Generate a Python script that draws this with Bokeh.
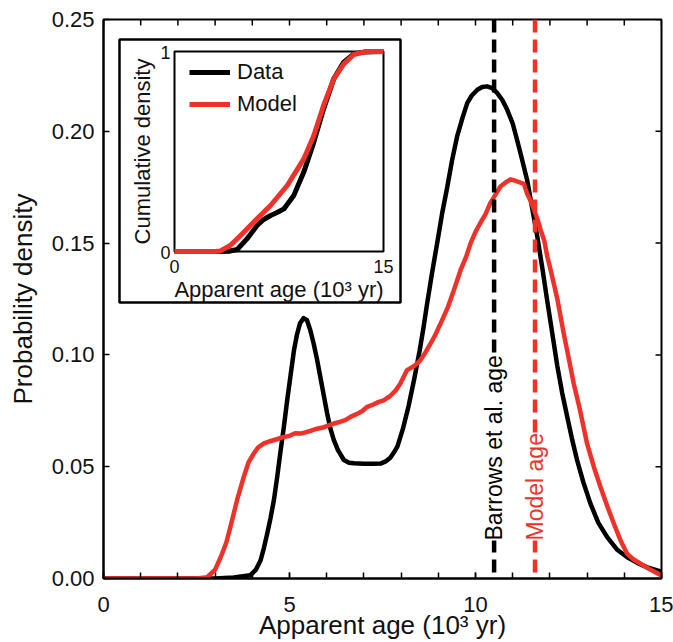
import numpy as np
from bokeh.plotting import figure
from bokeh.models import (Range1d, FixedTicker, Span, Label, Legend,
                          LegendItem, NumeralTickFormatter)
from bokeh.embed import file_html
from bokeh.resources import INLINE
from bokeh.core.properties import value

# ---------------- data ----------------
age_data = [0, 2.5, 3.0, 3.5, 3.95, 4.1, 4.22, 4.31, 4.4, 4.49, 4.58, 4.67, 4.76, 4.85,
            4.94, 5.03, 5.12, 5.2, 5.28, 5.38, 5.47, 5.56, 5.65, 5.74, 5.83, 5.92,
            6.01, 6.1, 6.19, 6.3, 6.46, 6.6, 6.73, 7.0, 7.25, 7.45, 7.6, 7.71, 7.8,
            7.9, 8.05, 8.2, 8.35, 8.5, 8.6, 8.7, 8.83, 8.97, 9.1, 9.24, 9.37, 9.51,
            9.65, 9.78, 9.9, 10.05, 10.18, 10.31, 10.45, 10.58, 10.72, 10.85, 11.0,
            11.12, 11.25, 11.39, 11.52, 11.66, 11.8, 11.93, 12.07, 12.2, 12.33, 12.47,
            12.6, 12.73, 12.9, 13.09, 13.3, 13.54, 13.8, 14.08, 14.35, 14.62, 15.0]
dens_data = [0, 0, 0, 0.0005, 0.0015, 0.004, 0.008, 0.0135, 0.02, 0.027, 0.035, 0.0455,
             0.057, 0.068, 0.08, 0.091, 0.102, 0.109, 0.114, 0.1165, 0.1155, 0.111,
             0.105, 0.098, 0.09, 0.082, 0.074, 0.067, 0.062, 0.0575, 0.053, 0.0518,
             0.0515, 0.0513, 0.0513, 0.0514, 0.0525, 0.054, 0.0562, 0.059, 0.067,
             0.077, 0.089, 0.102, 0.112, 0.123, 0.1365, 0.15, 0.163, 0.175, 0.187,
             0.198, 0.206, 0.2127, 0.216, 0.2186, 0.2198, 0.2201, 0.2193, 0.2172,
             0.214, 0.2097, 0.2035, 0.196, 0.1875, 0.178, 0.166, 0.153, 0.1385, 0.124,
             0.109, 0.095, 0.083, 0.072, 0.062, 0.053, 0.043, 0.0335, 0.025, 0.0185,
             0.013, 0.0095, 0.007, 0.005, 0.003]

age_model = [0, 2.5, 2.79, 3.0, 3.15, 3.3, 3.41, 3.59, 3.77, 3.9, 4.04, 4.15, 4.31, 4.5,
             4.7, 4.85, 5.0, 5.15, 5.3, 5.45, 5.6, 5.74, 5.9, 6.05, 6.19, 6.35, 6.5,
             6.64, 6.8, 6.95, 7.09, 7.25, 7.4, 7.53, 7.7, 7.85, 7.98, 8.16, 8.35, 8.52,
             8.65, 8.79, 8.92, 9.06, 9.25, 9.42, 9.6, 9.75, 9.87, 10.0, 10.13, 10.27,
             10.4, 10.55, 10.67, 10.8, 10.94, 11.05, 11.21, 11.3, 11.39, 11.48, 11.57,
             11.66, 11.75, 11.85, 11.93, 12.02, 12.2, 12.37, 12.5, 12.64, 12.8, 13.0,
             13.18, 13.36, 13.55, 13.72, 13.9, 14.08, 14.25, 14.44, 14.7, 15.0]
dens_model = [0, 0, 0.0006, 0.004, 0.0095, 0.016, 0.023, 0.035, 0.0454, 0.052, 0.0559,
              0.0585, 0.0604, 0.0615, 0.0625, 0.0633, 0.0638, 0.065, 0.0648, 0.0655,
              0.0662, 0.067, 0.0675, 0.0685, 0.0693, 0.07, 0.0708, 0.0723, 0.0735,
              0.0748, 0.0768, 0.0778, 0.079, 0.0797, 0.0815, 0.084, 0.0872, 0.0932,
              0.095, 0.0977, 0.101, 0.105, 0.109, 0.114, 0.121, 0.129, 0.138, 0.144,
              0.15, 0.155, 0.159, 0.163, 0.168, 0.172, 0.1753, 0.177, 0.1785, 0.178,
              0.177, 0.1765, 0.172, 0.169, 0.165, 0.161, 0.156, 0.151, 0.144, 0.138,
              0.125, 0.1097, 0.099, 0.0872, 0.076, 0.0603, 0.05, 0.0409, 0.032, 0.0245,
              0.017, 0.011, 0.0085, 0.0066, 0.004, 0.0013]

cdf_age_data = [0, 3.5, 3.9, 4.5, 5.2, 5.93, 6.4, 6.9, 7.4, 7.85, 8.56, 9.28, 10.0, 10.7,
                11.43, 12.15, 12.87, 13.6, 15]
cdf_data = [0, 0, 0.001, 0.01, 0.063, 0.13, 0.16, 0.18, 0.196, 0.213, 0.28, 0.397,
            0.547, 0.713, 0.863, 0.947, 0.988, 0.997, 1.0]
cdf_age_model = [0, 2.9, 3.3, 4.0, 4.74, 5.69, 6.89, 8.09, 9.28, 10.0, 10.7, 11.43,
                 12.15, 12.87, 13.5, 14.07, 15]
cdf_model = [0, 0, 0.003, 0.03, 0.08, 0.147, 0.23, 0.33, 0.463, 0.58, 0.73, 0.863,
             0.938, 0.985, 0.996, 1.0, 1.0]

barrows_age = 10.5
model_age = 11.6

x_major_ticks = [0, 5, 10, 15]
x_minor_ticks = list(range(0, 16))
y_ticks = [0.0, 0.05, 0.10, 0.15, 0.20, 0.25]
inset_x_ticks = [0, 15]
inset_x_labels = ["0", "15"]
inset_y_ticks = [0, 1]
inset_y_labels = ["0", "1"]

# ---------------- styles / layout ----------------
FONT = "Liberation Sans"
RED = "#ee3129"
TXT = "#111111"
W, H = 673, 642
FL, FR, FT, FB = 103, 661, 19, 578          # main frame edges (px)
IL, IR, IT, IB = 174, 383, 51, 251          # inset frame edges (px)
BL, BR, BT, BB = 119, 400, 39, 302          # inset white box (px)
TICK = 6                                    # tick length (px)

XMIN, XMAX = x_minor_ticks[0], x_minor_ticks[-1]
YMIN, YMAX = y_ticks[0], y_ticks[-1]

p = figure(width=W, height=H, x_range=Range1d(XMIN, XMAX), y_range=Range1d(YMIN, YMAX),
           output_backend="svg", toolbar_location=None,
           min_border_left=FL, min_border_right=W - FR,
           min_border_top=FT, min_border_bottom=H - FB)
p.grid.visible = False
p.outline_line_color = "black"
p.outline_line_width = 2
p.background_fill_color = "white"
p.border_fill_color = "white"

def style_axis(ax):
    ax.major_tick_in = TICK
    ax.major_tick_out = 0
    ax.minor_tick_in = TICK
    ax.minor_tick_out = 0
    ax.axis_line_width = 2
    ax.major_tick_line_width = 1.5
    ax.minor_tick_line_width = 1.5
    ax.major_label_text_font = FONT
    ax.major_label_text_color = TXT
    ax.major_label_text_font_size = "22px"
    ax.axis_label_text_font = FONT
    ax.axis_label_text_font_style = "normal"
    ax.axis_label_text_color = TXT
    ax.axis_label_text_font_size = "26px"

xa = p.xaxis[0]
xa.ticker = FixedTicker(ticks=x_major_ticks, minor_ticks=x_minor_ticks)
style_axis(xa)
xa.major_label_standoff = 18
xa.axis_label = "Apparent age (10³ yr)"
xa.axis_label_standoff = -5

ya = p.yaxis[0]
ya.ticker = FixedTicker(ticks=y_ticks, minor_ticks=[])
ya.formatter = NumeralTickFormatter(format="0.00")
style_axis(ya)
ya.major_label_standoff = 9
ya.axis_label = "Probability density"
ya.axis_label_standoff = 11

# mirrored inward ticks on the top and right edges of the frame
dx = (XMAX - XMIN) / (FR - FL)
dy = (YMAX - YMIN) / (FB - FT)
p.segment(x0=x_minor_ticks, x1=x_minor_ticks, y0=[YMAX] * len(x_minor_ticks),
          y1=[YMAX - TICK * dy] * len(x_minor_ticks), line_color="black", line_width=1.5)
p.segment(x0=[XMAX] * len(y_ticks), x1=[XMAX - TICK * dx] * len(y_ticks),
          y0=y_ticks, y1=y_ticks, line_color="black", line_width=1.5)

# main curves
p.line(age_data, dens_data, line_color="black", line_width=4.5, line_join="round")
p.line(age_model, dens_model, line_color=RED, line_width=4.5, line_join="round")

# reference lines + vertical labels
for loc, col, txt in [(barrows_age, "black", "Barrows et al. age"),
                      (model_age, RED, "Model age")]:
    p.add_layout(Span(location=loc, dimension="height", line_color=col,
                      line_width=4.5, line_dash="13 7"))
    p.add_layout(Label(x=loc, y=0.017, text=txt, angle=90, angle_units="deg",
                       text_align="left", text_baseline="middle",
                       text_font=FONT, text_font_size="23px", text_color=col,
                       background_fill_color="white"))

# ---------------- inset (drawn on extra ranges mapped into the frame) -------------
kx = (IR - IL) / (inset_x_ticks[-1] - inset_x_ticks[0])
ky = (IB - IT) / (inset_y_ticks[-1] - inset_y_ticks[0])
ix0 = inset_x_ticks[0] - (IL - FL) / kx
iy0 = inset_y_ticks[0] - (FB - IB) / ky
p.extra_x_ranges = {"ix": Range1d(ix0, ix0 + (FR - FL) / kx)}
p.extra_y_ranges = {"iy": Range1d(iy0, iy0 + (FB - FT) / ky)}

def px2ix(px):
    return ix0 + (px - FL) / kx

def py2iy(py):
    return iy0 + (FB - py) / ky

p.quad(left=[px2ix(BL)], right=[px2ix(BR)], top=[py2iy(BT)], bottom=[py2iy(BB)],
       fill_color="white", line_color="black", line_width=2.5,
       x_range_name="ix", y_range_name="iy")
p.quad(left=[inset_x_ticks[0]], right=[inset_x_ticks[-1]],
       bottom=[inset_y_ticks[0]], top=[inset_y_ticks[-1]],
       fill_alpha=0, line_color="black", line_width=2,
       x_range_name="ix", y_range_name="iy")

r_cd = p.line(cdf_age_data, cdf_data, line_color="black", line_width=5,
              line_join="round", x_range_name="ix", y_range_name="iy")
r_cm = p.line(cdf_age_model, cdf_model, line_color=RED, line_width=5,
              line_join="round", x_range_name="ix", y_range_name="iy")

# inset tick labels
p.text(x=[inset_x_ticks[0]] * len(inset_y_ticks), y=inset_y_ticks, text=inset_y_labels,
       text_align="right", text_baseline="middle", x_offset=-4, y_offset=1,
       text_font=value(FONT), text_font_size="18px", text_color=TXT,
       x_range_name="ix", y_range_name="iy")
p.text(x=inset_x_ticks, y=[inset_y_ticks[0]] * len(inset_x_ticks), text=inset_x_labels,
       text_align="center", text_baseline="top", y_offset=8,
       text_font=value(FONT), text_font_size="18px", text_color=TXT,
       x_range_name="ix", y_range_name="iy")
# inset axis labels
p.text(x=[px2ix(142)], y=[(inset_y_ticks[0] + inset_y_ticks[-1]) / 2],
       text=["Cumulative density"], angle=np.pi / 2,
       text_align="center", text_baseline="middle",
       text_font=value(FONT), text_font_size="22px", text_color=TXT,
       x_range_name="ix", y_range_name="iy")
p.text(x=[(inset_x_ticks[0] + inset_x_ticks[-1]) / 2], y=[py2iy(289)],
       text=["Apparent age (10³ yr)"],
       text_align="center", text_baseline="middle",
       text_font=value(FONT), text_font_size="22px", text_color=TXT,
       x_range_name="ix", y_range_name="iy")

legend = Legend(items=[LegendItem(label="Data", renderers=[r_cd]),
                       LegendItem(label="Model", renderers=[r_cm])],
                location=(189 - FL, FB - 117), padding=0, margin=0, spacing=6,
                glyph_width=41, glyph_height=26, label_height=26, label_standoff=7,
                label_text_font=FONT, label_text_font_size="22px",
                label_text_color=TXT,
                background_fill_alpha=0, border_line_alpha=0)
p.add_layout(legend)

open("out.html", "w").write(file_html(p, INLINE))
